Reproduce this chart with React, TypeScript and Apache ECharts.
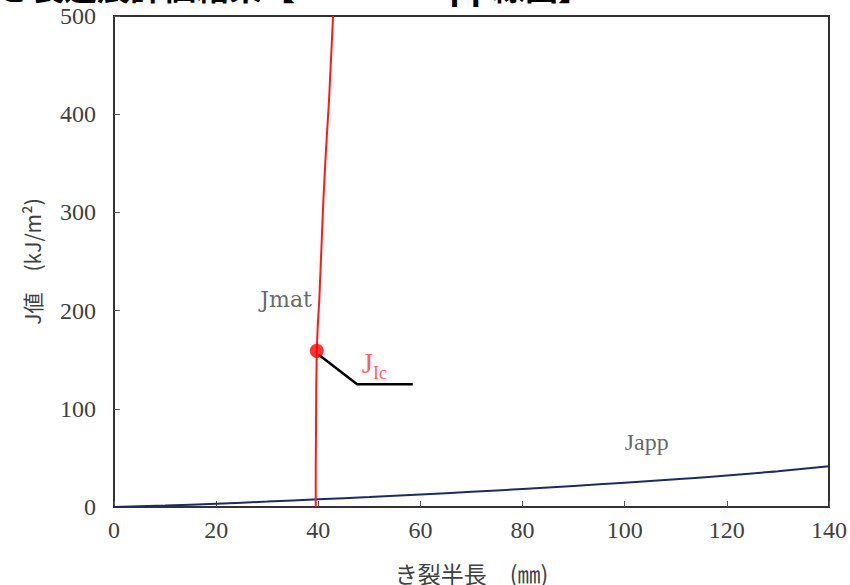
import React, { useEffect, useRef } from "react";
import * as echarts from "echarts";

const titleText = "き裂進展評価結果【Jmat－Japp線図】";
const xTicks = { min: 0, max: 140, interval: 20 };
const yTicks = { min: 0, max: 500, interval: 100 };

const jmatX = [39.5, 39.5, 39.55, 39.6, 39.7, 39.9, 40.2, 40.6, 41.0, 41.5, 42.1, 42.5, 42.9];
const jmatY = [0, 40, 75, 120, 159, 185, 211, 262, 313, 363, 414, 457, 500];

const jappX = [0, 10, 20, 30, 40, 50, 60, 70, 80, 90, 100, 110, 120, 130, 140];
const jappY = [0, 1.5, 3.4, 5.5, 7.8, 10.2, 12.8, 15.5, 18.4, 21.5, 24.7, 28.2, 32.0, 36.5, 41.5];

const jicPoint = [39.7, 159];
const leaderX = [40.1, 47.6, 58.5];
const leaderY = [155, 125, 125];

const labelJmat = { text: "Jmat", x: 33.7, y: 211 };
const labelJapp = { text: "Japp", x: 104.3, y: 66 };
const labelJic = { x: 51.0, y: 147 };

const serif = "'Liberation Serif', 'Times New Roman', serif";
const cjk = "'Noto Sans CJK JP', sans-serif";

export default function App() {
  const ref = useRef<HTMLDivElement>(null);
  useEffect(() => {
    if (!ref.current) return;
    const chart = echarts.init(ref.current, undefined, { renderer: "svg" });
    chart.setOption({
      animation: false,
      backgroundColor: "#fff",
      grid: {
        left: 114,
        right: 21,
        top: 16,
        bottom: 78,
        show: true,
        borderColor: "#333",
        borderWidth: 2,
        backgroundColor: "transparent",
        outerBoundsMode: "none",
        containLabel: false,
      },
      graphic: [
        {
          type: "text",
          x: -2,
          y: -31,
          silent: true,
          style: {
            text: titleText,
            font: `bold 33px ${cjk}`,
            fill: "#000",
            verticalAlign: "top",
          },
        },
      ],
      xAxis: {
        type: "value",
        min: xTicks.min,
        max: xTicks.max,
        interval: xTicks.interval,
        name: "き裂半長　(㎜)",
        nameLocation: "middle",
        nameGap: 54,
        nameTextStyle: { fontFamily: cjk, fontSize: 23, color: "#404040" },
        axisLine: { show: true, lineStyle: { color: "#333", width: 2 } },
        axisTick: { show: true, inside: true, length: 6, lineStyle: { color: "#555", width: 1 } },
        axisLabel: { fontFamily: serif, fontSize: 24, color: "#404040", margin: 11 },
        splitLine: { show: false },
      },
      yAxis: {
        type: "value",
        min: yTicks.min,
        max: yTicks.max,
        interval: yTicks.interval,
        name: "J値　(kJ/m²)",
        nameLocation: "middle",
        nameGap: 72,
        nameRotate: 90,
        nameTextStyle: { fontFamily: cjk, fontSize: 21, color: "#404040" },
        axisLine: { show: true, lineStyle: { color: "#333", width: 2 } },
        axisTick: { show: true, inside: true, length: 6, lineStyle: { color: "#555", width: 1 } },
        axisLabel: { fontFamily: serif, fontSize: 24, color: "#404040", margin: 18 },
        splitLine: { show: false },
      },
      series: [
        {
          name: "Japp",
          type: "line",
          data: jappX.map((x, i) => [x, jappY[i]]),
          showSymbol: false,
          smooth: true,
          lineStyle: { color: "#1a2c66", width: 2 },
          z: 2,
        },
        {
          name: "Jmat",
          type: "line",
          data: jmatX.map((x, i) => [x, jmatY[i]]),
          showSymbol: false,
          smooth: false,
          lineStyle: { color: "#ff1a1a", width: 2 },
          z: 3,
        },
        {
          name: "leader",
          type: "line",
          data: leaderX.map((x, i) => [x, leaderY[i]]),
          showSymbol: false,
          lineStyle: { color: "#000", width: 2.5 },
          z: 4,
        },
        {
          name: "JIc",
          type: "scatter",
          data: [jicPoint],
          symbolSize: 14,
          itemStyle: { color: "#ff0000" },
          z: 5,
        },
        {
          name: "labels",
          type: "scatter",
          symbolSize: 0,
          silent: true,
          data: [
            {
              value: [labelJmat.x, labelJmat.y],
              label: {
                show: true,
                position: "inside",
                formatter: labelJmat.text,
                fontFamily: "'DejaVu Serif', serif",
                fontSize: 22,
                color: "#404040",
              },
            },
            {
              value: [labelJapp.x, labelJapp.y],
              label: {
                show: true,
                position: "inside",
                formatter: labelJapp.text,
                fontFamily: serif,
                fontSize: 24,
                color: "#404040",
              },
            },
            {
              value: [labelJic.x, labelJic.y],
              label: {
                show: true,
                position: "inside",
                formatter: "{a|J}{b|Ic}",
                rich: {
                  a: { fontFamily: serif, fontSize: 29, color: "#ff3333", verticalAlign: "bottom" },
                  b: { fontFamily: serif, fontSize: 18, color: "#ff3333", verticalAlign: "bottom", padding: [0, 0, -5, 0] },
                },
              },
            },
          ],
        },
      ],
    });
    return () => chart.dispose();
  }, []);
  return <div ref={ref} style={{ width: 850, height: 585, position: "absolute", left: 0, top: 0 }} />;
}
